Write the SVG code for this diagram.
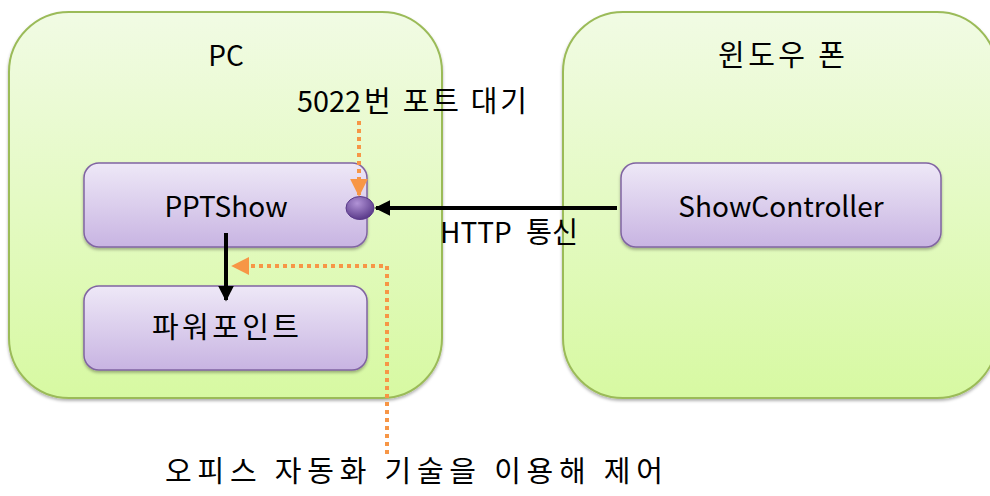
<svg xmlns="http://www.w3.org/2000/svg" width="990" height="496" viewBox="0 0 990 496">
<defs>
<linearGradient id="gGreen" x1="0" y1="0" x2="0" y2="1">
<stop offset="0" stop-color="#f1fbe4"/>
<stop offset="1" stop-color="#d7f9a2"/>
</linearGradient>
<linearGradient id="gPurple" x1="0" y1="0" x2="0" y2="1">
<stop offset="0" stop-color="#eee8f7"/>
<stop offset="1" stop-color="#c8b4e2"/>
</linearGradient>
<radialGradient id="gBall" cx="0.4" cy="0.3" r="0.7">
<stop offset="0" stop-color="#b193d6"/>
<stop offset="1" stop-color="#5a3a8a"/>
</radialGradient>
<filter id="sh" x="-10%" y="-10%" width="120%" height="130%">
<feDropShadow dx="0" dy="2" stdDeviation="1.5" flood-color="#000" flood-opacity="0.3"/>
</filter>
<marker id="mBlack" viewBox="0 0 10 10" refX="9" refY="5" markerWidth="4" markerHeight="4" orient="auto" markerUnits="strokeWidth">
<path d="M0,0 L10,5 L0,10 z" fill="#000"/>
</marker>
<marker id="mOrange" viewBox="0 0 10 10" refX="9" refY="5" markerWidth="4.5" markerHeight="4.5" orient="auto" markerUnits="strokeWidth">
<path d="M0,0 L10,5 L0,10 z" fill="#f79646"/>
</marker>
</defs>
<style>
.cont{fill:url(#gGreen);stroke:#9bbb59;stroke-width:2;filter:url(#sh)}
.node{fill:url(#gPurple);stroke:#8064a2;stroke-width:1.5;filter:url(#sh)}
text{font-family:"Noto Sans CJK KR","Noto Sans",sans-serif;font-size:28px;fill:#000}
.k{font-size:29px}
.c{text-anchor:middle}
.blk{stroke:#000;stroke-width:4;fill:none}
.org{stroke:#f79646;stroke-width:4;fill:none;stroke-dasharray:4 4}
</style>
<g id="pc">
<rect class="cont" x="9" y="12" width="433" height="386" rx="60" ry="60"/>
<text class="c" x="226" y="66">PC</text>
</g>
<g id="phone">
<rect class="cont" x="563" y="12" width="434" height="386" rx="60" ry="60"/>
<text class="k" x="718" y="66" textLength="127" lengthAdjust="spacing">윈도우 폰</text>
</g>
<g id="pptshow">
<rect class="node" x="84" y="163" width="283" height="84" rx="15" ry="15"/>
<text class="c" x="226" y="217">PPTShow</text>
</g>
<g id="powerpoint">
<rect class="node" x="84" y="286" width="283" height="84" rx="15" ry="15"/>
<text class="k" x="152" y="338" textLength="147" lengthAdjust="spacing">파워포인트</text>
</g>
<g id="showcontroller">
<rect class="node" x="621" y="163" width="320" height="84" rx="15" ry="15"/>
<text class="c" x="781" y="217">ShowController</text>
</g>
<g id="port">
<ellipse cx="360" cy="208" rx="14" ry="11.5" fill="url(#gBall)" stroke="#5a3a8a" stroke-width="1"/>
</g>
<g id="connectors">
<line class="blk" x1="617" y1="208" x2="376" y2="208" marker-end="url(#mBlack)"/>
<line class="blk" x1="226" y1="233" x2="226" y2="300" marker-end="url(#mBlack)"/>
<line class="org" x1="359" y1="121" x2="359" y2="195" marker-end="url(#mOrange)"/>
<polyline class="org" points="387,454 387,266 233,266" marker-end="url(#mOrange)"/>
</g>
<g id="labels">
<text y="112"><tspan x="297" textLength="64" lengthAdjust="spacingAndGlyphs">5022</tspan><tspan class="k" x="364" textLength="163" lengthAdjust="spacing">번 포트 대기</tspan></text>
<text y="243"><tspan x="440">HTTP</tspan><tspan class="k" x="526" textLength="52" lengthAdjust="spacingAndGlyphs">통신</tspan></text>
<text class="k" x="165" y="482" textLength="498" lengthAdjust="spacing">오피스 자동화 기술을 이용해 제어</text>
</g>
</svg>
